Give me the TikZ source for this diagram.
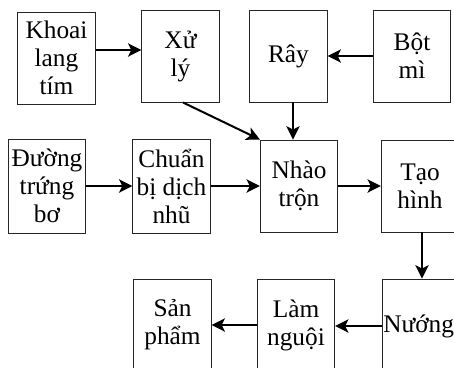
\documentclass[tikz,border=0pt]{standalone}
\usepackage{fontspec}
\setmainfont{Liberation Serif}
\usetikzlibrary{arrows.meta}
\begin{document}
\begin{tikzpicture}[x=0.75pt,y=-0.75pt,
  stepbox/.style={draw=black!85,line width=0.7pt,minimum width=58pt,minimum height=69pt,
    inner sep=0pt,align=center,font=\fontsize{19}{21}\selectfont},
  arr/.style={line width=1.5pt,-{Stealth[length=10pt,width=10pt,inset=2.5pt]}}]
\useasboundingbox (0,0) rectangle (454,368);
\clip (0,0) rectangle (454,368);
% first row
\node[stepbox] (khoai) at (56.5,58) {Khoai\\lang\\tím};
\node[stepbox] (xuly) at (180.5,56) {Xử\\lý};
\node[stepbox] (ray) at (288.5,56) {Rây};
\node[stepbox] (bot) at (412,56) {Bột\\mì};
% second row
\node[stepbox,minimum height=70.5pt] (duong) at (47,186) {Đường\\trứng\\bơ};
\node[stepbox,minimum height=70.5pt] (chuan) at (171.5,186) {Chuẩn\\bị dịch\\nhũ};
\node[stepbox] (nhao) at (299,186) {Nhào\\trộn};
\node[stepbox] (tao) at (420,186) {Tạo\\hình};
% third row
\node[stepbox] (san) at (172.5,325) {Sản\\phẩm};
\node[stepbox] (lam) at (296,325) {Làm\\nguội};
\node[stepbox] (nuong) at (421,325) {};
\node[anchor=west,inner sep=0pt,font=\fontsize{19}{21}\selectfont] (nuongtext) at (383,326) {Nướng};
% connectors
\draw[arr] (khoai.east |- 0,50) -- (xuly.west |- 0,50);
\draw[arr] (bot.west) -- (ray.east);
\draw[arr] (ray.south -| 293,0) -- (nhao.north -| 293,0);
\draw[arr] (xuly.south -| 183,0) -- (nhao.north west);
\draw[arr] (duong.east) -- (chuan.west);
\draw[arr] (chuan.east) -- (nhao.west);
\draw[arr] (nhao.east) -- (tao.west);
\draw[arr] (tao.south -| 422,0) -- (nuong.north -| 422,0);
\draw[arr] (nuong.west |- 0,326) -- (lam.east |- 0,326);
\draw[arr] (lam.west) -- (san.east);
\end{tikzpicture}
\end{document}
